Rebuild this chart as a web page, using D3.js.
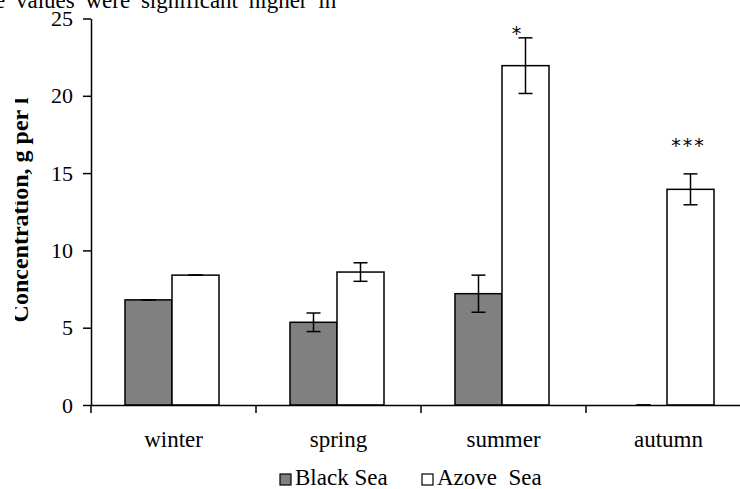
<!DOCTYPE html>
<html>
<head>
<meta charset="utf-8">
<script src="https://cdn.jsdelivr.net/npm/d3@7"></script>
<style>
body{margin:0;background:#fff;}
svg{display:block;font-family:"Liberation Serif","Times New Roman",serif;}
</style>
</head>
<body>
<svg width="740" height="489"></svg>
<script>
const seasons = ['winter','spring','summer','autumn'];
const seriesNames = ['Black Sea','Azove  Sea'];
const blackSea = [6.8, 5.35, 7.2, 0];
const blackErr = [0, 0.6, 1.2, 0];
const azoveSea = [8.4, 8.6, 21.95, 13.95];
const azoveErr = [0, 0.6, 1.8, 1.0];
const marks = ['', '', '*', '***'];
const yTicks = [0,5,10,15,20,25];

const svg = d3.select('svg');

const x = d3.scaleBand().domain(seasons).range([91,751]);
const inner = d3.scaleBand().domain([0,1]).range([34,128]);
const y = d3.scaleLinear().domain([0,25]).range([405,18.5]);

const fills = ['#808080','#ffffff'];
const rows = [];
seasons.forEach((s,i)=>{
  rows.push({s, k:0, v:blackSea[i], e:blackErr[i]});
  rows.push({s, k:1, v:azoveSea[i], e:azoveErr[i]});
});

// top text fragment from page (cut by the top edge)
svg.append('text')
  .attr('x',-5).attr('y',8)
  .attr('font-size',23)
  .attr('word-spacing',5)
  .text('e values were significant higher in');

// bars
svg.selectAll('.bar')
  .data(rows.filter(d=>d.v>0))
  .enter()
  .append('rect')
  .classed('bar',true)
  .attr('x',d=>x(d.s)+inner(d.k))
  .attr('width',inner.bandwidth())
  .attr('y',d=>y(d.v))
  .attr('height',d=>y(0)-y(d.v))
  .attr('fill',d=>fills[d.k])
  .attr('stroke','#000')
  .attr('stroke-width',1.5);

// error bars
const eb = svg.selectAll('.err')
  .data(rows)
  .enter()
  .append('g')
  .classed('err',true)
  .attr('stroke','#000')
  .attr('stroke-width',1.5);
eb.append('line')
  .attr('x1',d=>x(d.s)+inner(d.k)+inner.bandwidth()/2)
  .attr('x2',d=>x(d.s)+inner(d.k)+inner.bandwidth()/2)
  .attr('y1',d=>y(d.v+d.e))
  .attr('y2',d=>y(d.v-d.e));
eb.selectAll('.cap')
  .data(d=>[d.v+d.e, d.v-d.e].map(t=>({d,t})))
  .enter()
  .append('line')
  .attr('x1',c=>x(c.d.s)+inner(c.d.k)+inner.bandwidth()/2-7)
  .attr('x2',c=>x(c.d.s)+inner(c.d.k)+inner.bandwidth()/2+7)
  .attr('y1',c=>y(c.t))
  .attr('y2',c=>y(c.t));

// significance marks
svg.selectAll('.mark')
  .data(seasons)
  .enter()
  .append('text')
  .attr('x',(s,i)=>x(s)+inner(1)+inner.bandwidth()/2 + (i===2?-8:-2))
  .attr('y',(s,i)=>y(azoveSea[i]+azoveErr[i])-(i===2?-2:22))
  .attr('text-anchor','middle')
  .attr('font-family','DejaVu Sans, sans-serif')
  .attr('font-size',19)
  .attr('letter-spacing',2)
  .text((s,i)=>marks[i]);

// y axis
const yAxis = d3.axisLeft(y).tickValues(yTicks).tickSize(8).tickPadding(10).tickSizeOuter(0);
const gy = svg.append('g').attr('transform','translate(91,0)').call(yAxis)
  .attr('font-size',22).attr('font-family','Liberation Serif, serif');
gy.select('.domain').attr('stroke-width',1.5);
gy.selectAll('.tick line').attr('stroke-width',1.5);

// x axis
const xAxis = d3.axisBottom(x).tickSize(0).tickPadding(26).tickSizeOuter(0);
const gx = svg.append('g').attr('transform','translate(0,405)').call(xAxis)
  .attr('font-size',23).attr('font-family','Liberation Serif, serif');
gx.select('.domain').attr('stroke-width',1.5);
gx.selectAll('.sep')
  .data(seasons)
  .enter()
  .append('line')
  .attr('x1',s=>x(s)).attr('x2',s=>x(s))
  .attr('y1',0).attr('y2',8)
  .attr('stroke','#000').attr('stroke-width',1.5);

// y label (clipped at the page edge)
svg.append('defs').append('clipPath').attr('id','lc')
  .append('rect').attr('x',15).attr('y',0).attr('width',40).attr('height',489);
svg.append('g')
  .attr('clip-path','url(#lc)')
  .append('text')
  .attr('transform','translate(28,210) rotate(-90)')
  .attr('text-anchor','middle')
  .attr('font-weight','bold')
  .attr('font-size',24)
  .text('Concentration, g per l');

// legend
const legX = [280, 422];
const leg = svg.selectAll('.leg')
  .data(seriesNames)
  .enter()
  .append('g')
  .attr('transform',(d,i)=>`translate(${legX[i]},474)`);
leg.append('rect')
  .attr('width',11).attr('height',11)
  .attr('fill',(d,i)=>fills[i])
  .attr('stroke','#000').attr('stroke-width',1.2);
leg.append('text')
  .attr('x',15).attr('y',11)
  .attr('font-size',23)
  .style('white-space','pre')
  .text(d=>d);
</script>
</body>
</html>
